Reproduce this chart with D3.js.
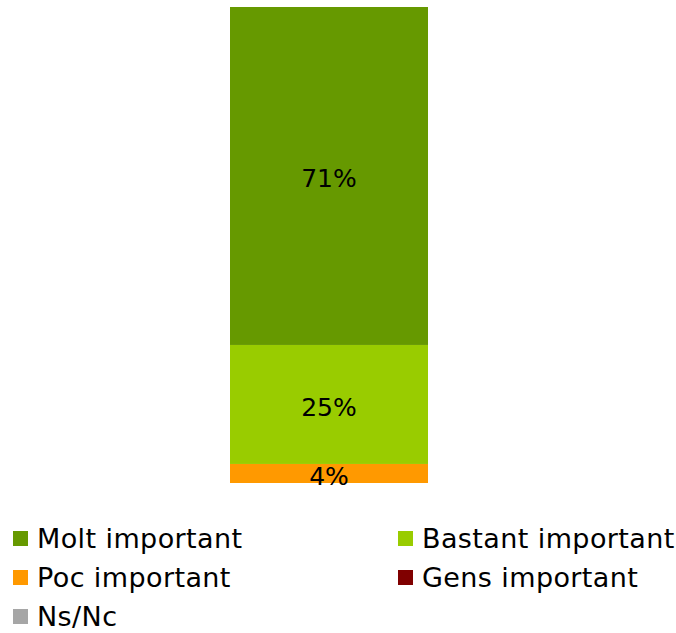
<!DOCTYPE html>
<html>
<meta charset="utf-8">
<script src="https://d3js.org/d3.v7.min.js"></script>
<style>
body{ margin:0; background:white; }
svg text{ font-family: "DejaVu Sans", sans-serif; fill:#000; }
</style>
<body>
<div id="chartDiv"></div>
<script>
var categories = ["Molt important", "Bastant important", "Poc important", "Gens important", "Ns/Nc"];
var values = [71, 25, 4, 0, 0];
var colours = ["#669900", "#99cc00", "#ff9900", "#800000", "#a6a6a6"];

var width = 676, height = 633;

var svg = d3.select("#chartDiv").append("svg")
  .attr("width", width).attr("height", height);

var x = d3.scaleBand().domain(["all"]).range([230, 428]).padding(0);
var y = d3.scaleLinear().domain([0, 100]).range([483, 7]);

// stack bottom-up: last category at the bottom, "Molt important" on top
var stackData = [];
var acc = 0;
for (var i = categories.length - 1; i >= 0; i--) {
  stackData.push({name:categories[i], value:values[i], y0:acc, y1:acc+values[i], col:colours[i]});
  acc += values[i];
}

var segs = svg.append("g").selectAll(".seg").data(stackData.filter(function(d){return d.value>0}))
  .enter();

segs.append("rect")
  .attr("class","seg")
  .attr("x", x("all"))
  .attr("width", x.bandwidth())
  .attr("y", function(d){ return y(d.y1); })
  .attr("height", function(d){ return y(d.y0) - y(d.y1); })
  .style("fill", function(d){ return d.col; });

segs.append("text")
  .attr("x", x("all") + x.bandwidth()/2)
  .attr("y", function(d){ return (y(d.y0) + y(d.y1))/2; })
  .attr("dy", "0.45em")
  .attr("text-anchor","middle")
  .style("font-size","25px")
  .text(function(d){ return d.value + "%"; });

// legend, two columns
var legend = svg.append("g").selectAll(".leg").data(categories)
  .enter().append("g")
  .attr("class","leg")
  .attr("transform", function(d,i){
    var col = i % 2, row = Math.floor(i/2);
    return "translate(" + (col ? 398 : 13) + "," + (531 + row*39) + ")";
  });

legend.append("rect")
  .attr("width",15).attr("height",15)
  .style("fill", function(d,i){ return colours[i]; });

legend.append("text")
  .attr("x", 24).attr("y", 7.5)
  .attr("dy","0.34em")
  .style("font-size","27px")
  .style("letter-spacing","0.4px")
  .text(function(d){ return d; });
</script>
</body>
</html>
